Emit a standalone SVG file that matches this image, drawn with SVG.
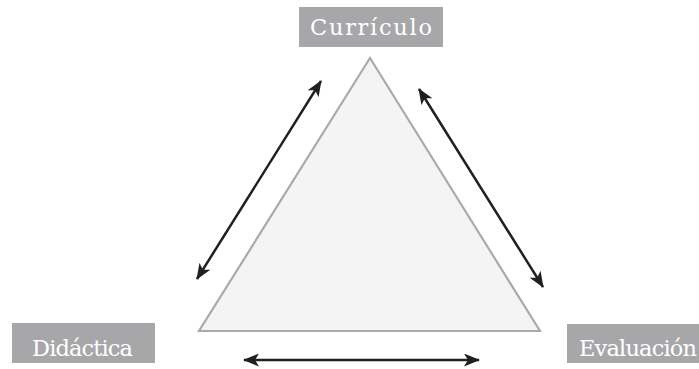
<svg xmlns="http://www.w3.org/2000/svg" width="699" height="369" viewBox="0 0 699 369">
<style>
.box{fill:#a7a7aa}
.lbl{fill:#ffffff;font-family:"DejaVu Serif","Liberation Serif",serif;font-size:22.5px}
.arr{stroke:#231f20;stroke-width:2.5;fill:none;marker-start:url(#ah);marker-end:url(#ah)}
</style>
<defs>
<marker id="ah" viewBox="0 0 16 13" refX="15" refY="6.5" markerWidth="16" markerHeight="13" markerUnits="userSpaceOnUse" orient="auto-start-reverse">
<path d="M0,0 L16,6.5 L0,13 L4,6.5 Z" fill="#231f20"/>
</marker>
</defs>
<g id="triangle">
<polygon points="370,58 199,331 540,331" fill="#f4f4f4" stroke="#aaaaaa" stroke-width="2.2"/>
</g>
<g id="curriculo">
<rect class="box" x="299" y="7" width="144" height="40"/>
<text class="lbl" x="310" y="34.5" textLength="122">Currículo</text>
</g>
<g id="didactica">
<rect class="box" x="12" y="323" width="143" height="40"/>
<text class="lbl" x="32" y="355.5" textLength="101">Didáctica</text>
</g>
<g id="evaluacion">
<rect class="box" x="567" y="324" width="132" height="39"/>
<text class="lbl" x="579" y="355.5" textLength="118">Evaluación</text>
</g>
<g id="connectors">
<line class="arr" x1="197" y1="279" x2="321" y2="81"/>
<line class="arr" x1="419" y1="89" x2="543" y2="287"/>
<line class="arr" x1="244" y1="360" x2="479" y2="360"/>
</g>
</svg>
